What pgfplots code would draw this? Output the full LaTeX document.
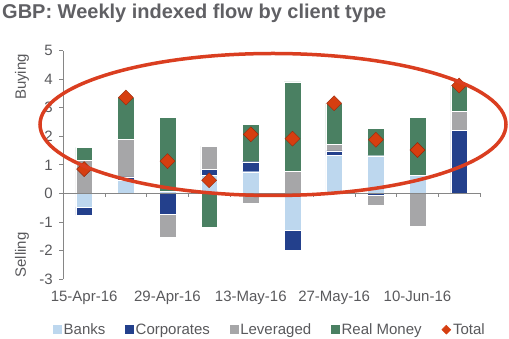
\documentclass[border=0pt]{standalone}
\usepackage{pgfplots}
\usepackage{pgfplotstable}
\pgfplotsset{compat=1.18}
\usepackage{fontspec}
\setmainfont{Liberation Sans}

\definecolor{cbank}{RGB}{189,215,238}
\definecolor{ccorp}{RGB}{35,64,140}
\definecolor{clev}{RGB}{166,166,168}
\definecolor{creal}{RGB}{74,128,98}
\definecolor{ctot}{RGB}{214,62,16}
\definecolor{ctotedge}{RGB}{150,40,10}
\definecolor{cell}{RGB}{218,62,32}
\definecolor{textgray}{RGB}{89,89,92}
\definecolor{titlegray}{RGB}{96,96,100}
\definecolor{axisgray}{RGB}{134,134,134}

% positive parts (stacked upward from zero)
\pgfplotstableread{
x bank corp lev real
0 0.00 0.00 1.15 0.46
1 0.47 0.11 1.32 1.46
2 0.08 0.00 0.00 2.59
3 0.64 0.20 0.82 0.00
4 0.76 0.35 0.00 1.31
5 0.00 0.00 0.78 3.13
6 1.33 0.16 0.24 1.43
7 1.32 0.00 0.00 0.97
8 0.64 0.00 0.00 2.03
9 0.00 2.20 0.67 0.91
}\postab
% negative parts (stacked downward from zero)
\pgfplotstableread{
x bank corp lev real
0 -0.47 -0.29 0.00 0.00
1 0.00 0.00 0.00 0.00
2 0.00 -0.73 -0.81 0.00
3 0.00 0.00 0.00 -1.20
4 0.00 0.00 -0.35 0.00
5 -1.29 -0.70 0.00 0.00
6 0.00 0.00 0.00 0.00
7 0.00 -0.08 -0.33 0.00
8 0.00 0.00 -1.15 0.00
9 0.00 0.00 0.00 0.00
}\negtab
\pgfplotstableread{
x total
0 0.85
1 3.36
2 1.13
3 0.46
4 2.07
5 1.92
6 3.16
7 1.88
8 1.52
9 3.78
}\tottab

\pgfplotsset{
  common/.style={
    width=416.7bp, height=228.3bp, scale only axis,
    at={(63.3bp,60bp)}, anchor=south west,
    xmin=-0.5, xmax=9.5, ymin=-3, ymax=5,
  },
  barstyle/.style={draw=white, line width=0.4bp},
}

\begin{document}
\begin{tikzpicture}
\path[use as bounding box] (0,0) rectangle (509bp,339bp);

% title
\node[anchor=base west, inner sep=0pt, text=titlegray, font=\fontsize{20bp}{24bp}\selectfont\bfseries]
  at (2bp,320.7bp) {GBP: Weekly indexed flow by client type};

% side labels
\node[rotate=90, text=textgray, font=\fontsize{15bp}{18bp}\selectfont] at (22bp,262bp) {Buying};
\node[rotate=90, text=textgray, font=\fontsize{15bp}{18bp}\selectfont] at (22bp,84bp) {Selling};

% Axis A: decorations, positive stacks, legend
\begin{axis}[common,
  ybar stacked, bar width=16.7bp,
  axis y line*=left, axis x line*=bottom,
  x axis line style={draw=none},
  y axis line style={draw=axisgray, line width=0.8bp},
  xtick={0,2,4,6,8},
  xticklabels={15-Apr-16,29-Apr-16,13-May-16,27-May-16,10-Jun-16},
  x tick style={draw=none},
  ytick={-3,-2,-1,0,1,2,3,4,5},
  y tick style={draw=axisgray, line width=0.8bp},
  tick align=outside, major tick length=4bp,
  ticklabel style={font=\fontsize{15bp}{18bp}\selectfont, text=textgray},
  yticklabel style={xshift=-3bp},
  xticklabel style={yshift=-5bp},
  /pgf/number format/assume math mode=true,
  legend style={at={(0.496,-0.222)}, anchor=center, draw=none, fill=none,
    font=\fontsize{15bp}{18bp}\selectfont, text=textgray,
    /tikz/every even column/.append style={column sep=18bp}},
  legend columns=5,
]
\addlegendimage{legend image code/.code={\fill[cbank] (0bp,-4bp) rectangle (8bp,4bp);}}
\addlegendentry{Banks}
\addlegendimage{legend image code/.code={\fill[ccorp] (0bp,-4bp) rectangle (8bp,4bp);}}
\addlegendentry{Corporates}
\addlegendimage{legend image code/.code={\fill[clev] (0bp,-4bp) rectangle (8bp,4bp);}}
\addlegendentry{Leveraged}
\addlegendimage{legend image code/.code={\fill[creal] (0bp,-4bp) rectangle (8bp,4bp);}}
\addlegendentry{Real Money}
\addlegendimage{legend image code/.code={\fill[ctot] (4bp,-4.5bp) -- (8.5bp,0bp) -- (4bp,4.5bp) -- (-0.5bp,0bp) -- cycle;}}
\addlegendentry{Total}

\addplot[barstyle, fill=cbank] table[x=x, y=bank] {\postab};
\addplot[barstyle, fill=ccorp] table[x=x, y=corp] {\postab};
\addplot[barstyle, fill=clev] table[x=x, y=lev] {\postab};
\addplot[barstyle, fill=creal] table[x=x, y=real] {\postab};
\end{axis}

% Axis B: negative stacks
\begin{axis}[common, hide axis, ybar stacked, bar width=16.7bp]
\addplot[barstyle, fill=cbank] table[x=x, y=bank] {\negtab};
\addplot[barstyle, fill=ccorp] table[x=x, y=corp] {\negtab};
\addplot[barstyle, fill=clev] table[x=x, y=lev] {\negtab};
\addplot[barstyle, fill=creal] table[x=x, y=real] {\negtab};
\end{axis}

% Axis C: zero line, category ticks, totals
\begin{axis}[common, hide axis, clip=false]
\draw[axisgray, line width=0.8bp] (axis cs:-0.5,0) -- (axis cs:9.5,0);
\pgfplotsinvokeforeach{-0.5,0.5,1.5,2.5,3.5,4.5,5.5,6.5,7.5,8.5,9.5}{
  \draw[axisgray, line width=0.8bp] (axis cs:#1,0) -- ([yshift=-4bp]axis cs:#1,0);
}
\addplot[only marks, mark=square*, mark size=5.3bp,
  mark options={rotate=45, fill=ctot, draw=ctotedge, line width=0.4bp}]
  table[x=x, y=total] {\tottab};
\end{axis}

% annotation ellipse
\draw[cell, line width=3.5bp] (273bp,214.5bp) ellipse [x radius=233bp, y radius=71bp];
\end{tikzpicture}
\end{document}
